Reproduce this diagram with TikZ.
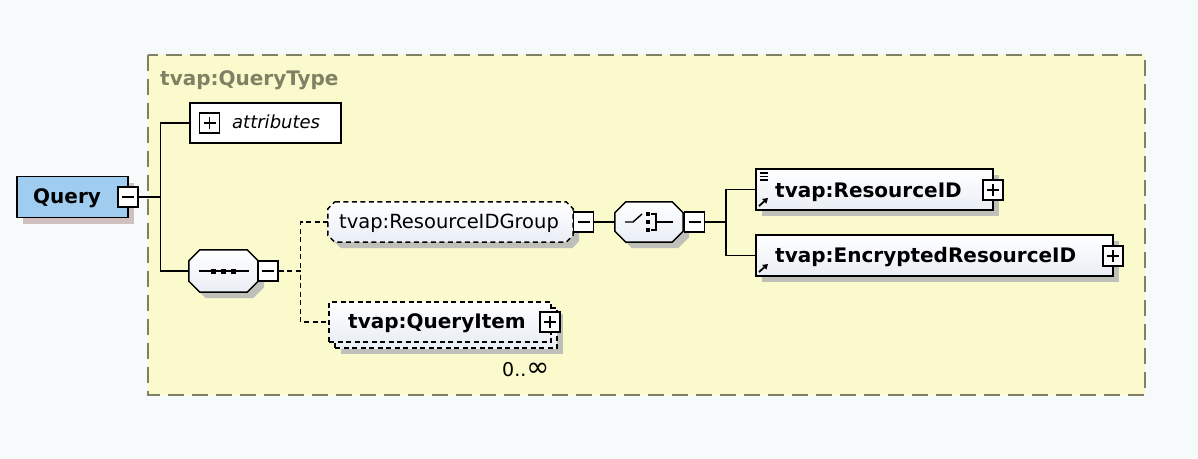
\documentclass[tikz,border=0pt]{standalone}
\usepackage{fontspec}
\usepackage{graphicx}
\setmainfont{DejaVu Sans}
\usetikzlibrary{shadows,arrows.meta,calc}
\definecolor{bg}{RGB}{246,250,250}
\definecolor{frameyel}{RGB}{250,250,204}
\definecolor{frameline}{RGB}{128,128,100}
\definecolor{qblue}{RGB}{160,204,240}
\definecolor{shad}{RGB}{192,192,186}
\definecolor{qshad}{RGB}{208,192,192}
\definecolor{elembot}{RGB}{233,238,245}
\newcommand\octpath[4]{([xshift=#2+#3,yshift=#4]#1.north west) -- ([xshift=-#2+#3,yshift=#4]#1.north east) -- ([xshift=#3,yshift=-#2+#4]#1.north east) -- ([xshift=#3,yshift=#2+#4]#1.south east) -- ([xshift=-#2+#3,yshift=#4]#1.south east) -- ([xshift=#2+#3,yshift=#4]#1.south west) -- ([xshift=#3,yshift=#2+#4]#1.south west) -- ([xshift=#3,yshift=-#2+#4]#1.north west) -- cycle}
\tikzset{
  anchorbox/.style={draw=none, inner sep=0pt},
  elembox/.style={draw=black, line width=1.5pt, top color=white, bottom color=elembot, inner sep=0pt, minimum height=41pt},
  withshadow/.style={drop shadow={shadow xshift=6pt, shadow yshift=-6pt, fill=shad, opacity=1}},
  optdash/.style={dash pattern=on 5pt off 3.5pt},
  pmbox/.style={draw=black, line width=1.3pt, fill=white, minimum size=20pt, inner sep=0pt},
  pmminus/.style={pmbox, path picture={\draw[line width=1.3pt] ([xshift=-6pt]path picture bounding box.center) -- ([xshift=6pt]path picture bounding box.center);}},
  pmplus/.style={pmbox, path picture={\draw[line width=1.3pt] ([xshift=-6pt]path picture bounding box.center) -- ([xshift=6pt]path picture bounding box.center) ([yshift=-6pt]path picture bounding box.center) -- ([yshift=6pt]path picture bounding box.center);}},
  conn/.style={draw=black, line width=1.5pt},
  optconn/.style={conn, optdash},
  blbl/.style={anchor=base west, inner sep=0pt, font=\bfseries\fontsize{20}{20}\selectfont},
  rlbl/.style={anchor=base west, inner sep=0pt, font=\fontsize{19.5}{20}\selectfont},
  refarrow/.style={line width=1.8pt, -{Triangle[length=5pt,width=6pt]}},
}
\begin{document}
\begin{tikzpicture}[x=1pt,y=-1pt]
\fill[bg] (0,0) rectangle (1198,458);
\useasboundingbox (0,0) rectangle (1198,458);
% frame
\draw[frameline, fill=frameyel, line width=2pt, dash pattern=on 16pt off 8pt] (148,55) rectangle (1145,395);
\node[blbl, text=frameline] (title) at (160,85) {tvap:QueryType};

% Query
\node[draw=black, line width=1.5pt, fill=qblue, inner sep=0pt, minimum height=41pt, minimum width=111pt, drop shadow={shadow xshift=6pt, shadow yshift=-6pt, fill=qshad, opacity=1}] (query) at (72.5,197) {};
\node[blbl] (query-t) at (33,203) {Query};
\node[pmminus] (querypm) at (128,197) {};

% attributes
\node[draw=black, line width=1.5pt, fill=white, inner sep=0pt, minimum width=151pt, minimum height=40pt] (attr) at (265.5,123) {};
\node[pmplus] (attrpm) at (209.5,123) {};
\node[anchor=base west, inner sep=0pt, font=\itshape\fontsize{18}{18}\selectfont] (attr-t) at (232,128) {attributes};

% sequence compositor
\node[anchorbox, minimum width=69pt, minimum height=42pt] (seq) at (223.5,271) {};
\fill[shad] \octpath{seq}{11pt}{6pt}{-6pt};
\draw[draw=black, top color=white, bottom color=elembot, line width=1.5pt] \octpath{seq}{11pt}{0pt}{0pt};
\begin{scope}[shift={(seq.center)}]
  \draw[line width=1.4pt] (-25,0) -- (25,0);
  \fill (-12.5,-2.5) rectangle (-7.5,2.5);
  \fill (-2.5,-2.5) rectangle (2.5,2.5);
  \fill (7.5,-2.5) rectangle (12.5,2.5);
\end{scope}
\node[pmminus] (seqpm) at (268,271) {};

% ResourceIDGroup
\node[anchorbox, minimum width=245pt, minimum height=40pt] (rig) at (450.5,222) {};
\fill[shad] \octpath{rig}{7pt}{6pt}{-6pt};
\draw[draw=black, top color=white, bottom color=elembot, line width=1.5pt, optdash] \octpath{rig}{7pt}{0pt}{0pt};
\node[rlbl] (rig-t) at (339,228) {tvap:ResourceIDGroup};
\node[pmminus] (rigpm) at (583.5,222) {};

% choice compositor
\node[anchorbox, minimum width=68pt, minimum height=40pt] (ch) at (649,222) {};
\fill[shad] \octpath{ch}{11pt}{6pt}{-6pt};
\draw[draw=black, top color=white, bottom color=elembot, line width=1.5pt] \octpath{ch}{11pt}{0pt}{0pt};
\begin{scope}[shift={(ch.center)}]
  \draw[line width=1.4pt] (-24,0) -- (-16,0) -- (-7,-8);
  \fill (-3,-10) rectangle (1,-6);
  \fill (-3,-2) rectangle (1,2);
  \fill (-3,6) rectangle (1,10);
  \draw[line width=1.4pt] (2,-8) -- (7,-8) -- (7,8) -- (2,8);
  \draw[line width=1.4pt] (7,0) -- (24,0);
\end{scope}
\node[pmminus] (chpm) at (694.5,222) {};

% ResourceID
\node[elembox, withshadow, minimum width=237pt] (rid) at (874.5,189.5) {};
\node[blbl] (rid-t) at (775,197) {tvap:ResourceID};
\draw[line width=1.2pt] (760,173) -- (768,173) (760,176.5) -- (768,176.5) (760,180) -- (768,180);
\draw[refarrow] (759,206) -- (768,198);
\node[pmplus] (ridpm) at (993,190) {};

% EncryptedResourceID
\node[elembox, withshadow, minimum width=357pt] (erid) at (934.5,255.5) {};
\node[blbl] (erid-t) at (775,262) {tvap:EncryptedResourceID};
\draw[refarrow] (759,272) -- (768,264);
\node[pmplus] (eridpm) at (1113,256) {};

% QueryItem (repeated)
\node[elembox, withshadow, optdash, minimum width=222pt, minimum height=40pt] (qib) at (446,328) {};
\node[elembox, optdash, minimum width=222pt, minimum height=40pt] (qi) at (440,322) {};
\node[blbl] (qi-t) at (348,328) {tvap:QueryItem};
\node[pmplus] (qipm) at (550,322) {};
\node[anchor=base west, inner sep=0pt, font=\fontsize{19}{19}\selectfont] (qi-occ) at (502,376) {0..\scalebox{1.45}{∞}};

% connectors
\draw[conn] (querypm.east) -- ++(22,0) |- (attr.west);
\draw[conn] (querypm.east) -- ++(22,0) |- (seq.west);
\draw[optconn] (seqpm.east) -- ++(22,0) |- (rig.west);
\draw[optconn] (seqpm.east) -- ++(22,0) |- (qi.west);
\draw[conn] (rigpm.east) -- (ch.west);
\draw[conn] (chpm.east) -- ++(21,0) |- (rid.west);
\draw[conn] (chpm.east) -- ++(21,0) |- (erid.west);
\end{tikzpicture}
\end{document}
